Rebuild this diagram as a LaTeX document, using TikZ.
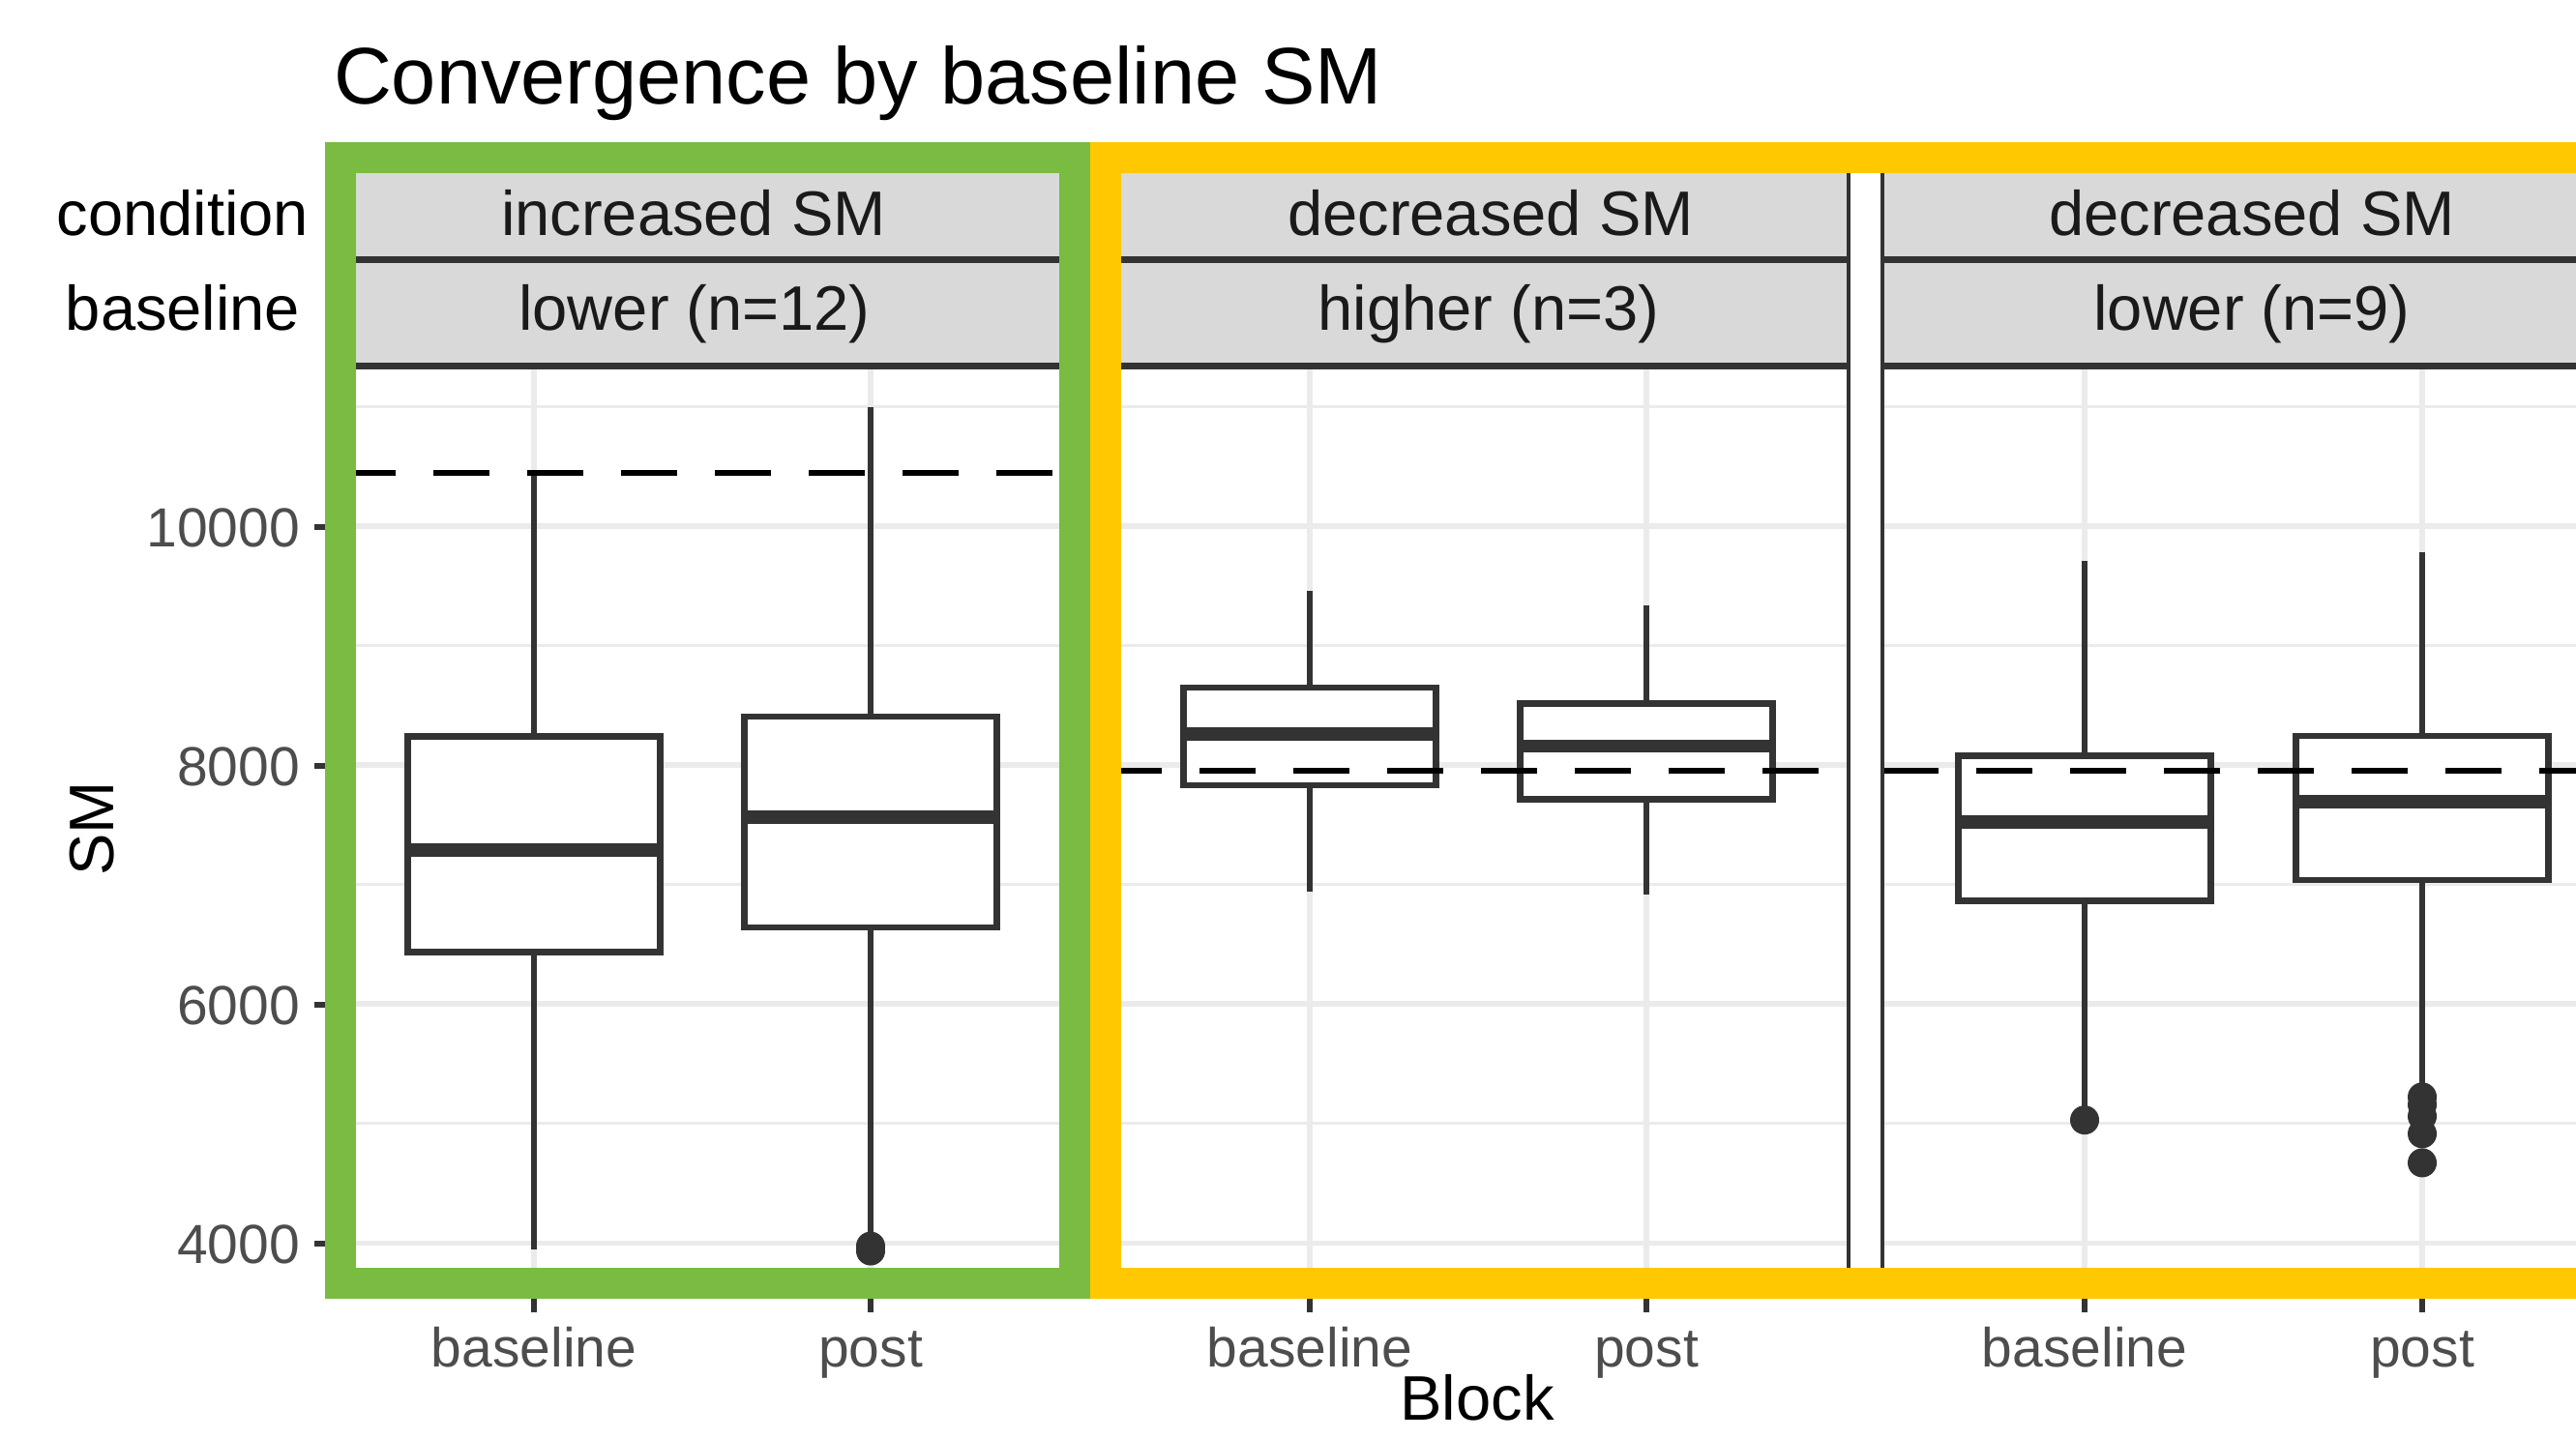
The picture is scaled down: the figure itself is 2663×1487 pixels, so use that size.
\documentclass[tikz,border=0pt]{standalone}
\usepackage{fontspec}
\setmainfont{Liberation Sans}

\definecolor{grey10}{HTML}{1A1A1A}
\definecolor{grey20}{HTML}{333333}
\definecolor{grey30}{HTML}{4D4D4D}
\definecolor{grey85}{HTML}{D9D9D9}
\definecolor{grey92}{HTML}{EBEBEB}
\definecolor{hlgreen}{RGB}{122,187,66}
\definecolor{hlyellow}{RGB}{255,200,0}

\begin{document}
\begin{tikzpicture}[
    x=0.01cm, y=-0.01cm,
    every node/.style={inner sep=0pt, outer sep=0pt},
    titletext/.style={font=\fontsize{23.6}{26}\selectfont},
    striptext/.style={font=\fontsize{18.5}{20}\selectfont, text=grey10},
    axistitle/.style={font=\fontsize{18.5}{20}\selectfont},
    ticktext/.style={font=\fontsize{16.2}{18}\selectfont, text=grey30},
    majorgrid/.style={draw=grey92, line width=1.7pt},
    minorgrid/.style={draw=grey92, line width=0.85pt},
    panelframe/.style={draw=grey20, line width=1pt},
    stripbox/.style={fill=grey85},
    stripline/.style={draw=grey20, line width=2pt},
    whisker/.style={draw=grey20, line width=1.9pt},
    boxbody/.style={draw=grey20, fill=white, line width=1.9pt},
    median/.style={draw=grey20, line width=3.8pt},
    outlier/.style={fill=grey20},
    refline/.style={draw=black, line width=1.7pt, dash pattern=on 16.5pt off 11.1pt},
    tickmark/.style={draw=grey20, line width=1.7pt},
    highlight/.style={line width=0.32cm}
]

\useasboundingbox (0,0) rectangle (2663,1487);
\clip (0,0) rectangle (2663,1487);

% panels, in SM units
\begin{scope}[shift={(0,1780)}, y=0.001235cm]
    \foreach \l/\r in {343/1109, 1145/1911, 1946/2712} {
        \foreach \v in {5000,7000,9000,11000}
            \draw[minorgrid] (\l,\v) -- (\r,\v);
        \foreach \v in {4000,6000,8000,10000}
            \draw[majorgrid] (\l,\v) -- (\r,\v);
    }
    \foreach \x in {552,900,1354,1702,2155,2504}
        \draw[majorgrid] (\x,3668) -- (\x,11320);

    \foreach \x/\lo/\qa/\md/\qb/\hi in {552/3951/6437/7287/8240/10445,
                                        900/4000/6640/7563/8405/10996,
                                        1354/6939/7830/8259/8648/9457,
                                        1702/6918/7715/8156/8513/9338,
                                        2155/5060/6866/7522/8078/9709,
                                        2504/5239/7036/7692/8243/9781} {
        \draw[whisker] (\x,\lo) -- (\x,\qa) (\x,\qb) -- (\x,\hi);
        \draw[boxbody] (\x-130.5,\qa) rectangle (\x+130.5,\qb);
        \draw[median] (\x-130.5,\md) -- (\x+130.5,\md);
    }

    \foreach \x/\v in {900/3975, 900/3935, 2155/5030,
                       2504/5223, 2504/5158, 2504/5061, 2504/4915, 2504/4672}
        \fill[outlier] (\x,\v) circle[radius=0.15cm];

    \draw[refline] (351,10445) -- (1109,10445);
    \draw[refline] (1143,7951) -- (1911,7951);
    \draw[refline] (1946,7951) -- (2712,7951);
\end{scope}

% strips
\foreach \l/\r in {343/1109, 1145/1911, 1946/2712} {
    \fill[stripbox] (\l,162) rectangle (\r,378.5);
    \draw[stripline] (\l,268.5) -- (\r,268.5) (\l,378.5) -- (\r,378.5);
    \draw[panelframe] (\l,162) -- (\l,1327) (\r,162) -- (\r,1327);
}

\node[striptext, anchor=base] (cond1) at (717,243) {increased SM};
\node[striptext, anchor=base] (base1) at (718,341) {lower (n=12)};
\node[striptext, anchor=base] (cond2) at (1541,243) {decreased SM};
\node[striptext, anchor=base] (base2) at (1539,341) {higher (n=3)};
\node[striptext, anchor=base] (cond3) at (2328,243) {decreased SM};
\node[striptext, anchor=base] (base3) at (2328,341) {lower (n=9)};

\node[axistitle, anchor=base] (condlabel) at (189,243) {condition};
\node[axistitle, anchor=base] (baselabel) at (189,341) {baseline};

% axes
\foreach \v/\y in {10000/545, 8000/792, 6000/1039, 4000/1286} {
    \draw[tickmark] (325,\y) -- (343,\y);
    \node[ticktext, anchor=base east] (ytick\v) at (310,\y+20) {\v};
}
\foreach \x/\t [count=\i] in {552/baseline, 900/post, 1354/baseline,
                              1702/post, 2155/baseline, 2504/post} {
    \draw[tickmark] (\x,1327) -- (\x,1357);
    \node[ticktext, anchor=base] (xtick\i) at (\x,1413) {\t};
}

\node[titletext, anchor=base west] (title) at (345,107) {Convergence by baseline SM};
\node[axistitle, rotate=90] (ylabel) at (95,857) {SM};
\node[axistitle, anchor=base] (xlabel) at (1527,1468) {Block};

\draw[highlight, draw=hlgreen] (352,163) rectangle (1111,1327);
\draw[highlight, draw=hlyellow] (1143,163) rectangle (2760,1327);

\end{tikzpicture}
\end{document}
